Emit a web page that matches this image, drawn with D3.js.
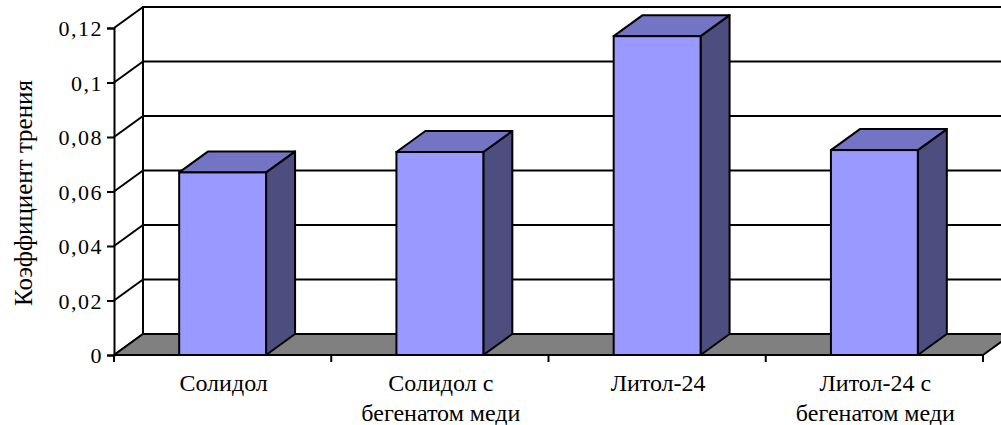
<!DOCTYPE html>
<html>
<head>
<meta charset="utf-8">
<script src="https://cdn.jsdelivr.net/npm/d3@7"></script>
<style>
  html, body { margin: 0; padding: 0; background: #fff; }
  svg { display: block; }
</style>
</head>
<body>
<div id="chart"></div>
<script>
// ---- data ----
const categories = ["Солидол", "Солидол с бегенатом меди", "Литол-24", "Литол-24 с бегенатом меди"];
const labelLines = [["Солидол"], ["Солидол с", "бегенатом меди"], ["Литол-24"], ["Литол-24 с", "бегенатом меди"]];
const values = [0.067, 0.0745, 0.117, 0.0752];
const yTicks = [0, 0.02, 0.04, 0.06, 0.08, 0.1, 0.12];
const yTickLabels = ["0", "0,02", "0,04", "0,06", "0,08", "0,1", "0,12"];
const yTitle = "Коэффициент трения";

const W = 1001, H = 425;
const FONT = "Liberation Serif";
// 3D depth offset (Excel-style oblique projection)
const DX = 29, DY = -21;

const svg = d3.select("#chart").append("svg")
  .attr("width", W).attr("height", H);

// bar width ~ 40% of each category slot
const x = d3.scaleBand()
  .domain(categories)
  .range([114, 983])
  .paddingInner(0.6)
  .paddingOuter(0.3);

const y = d3.scaleLinear().domain([0, 0.12]).range([355, 28]);

const x0 = x.range()[0], x1 = x.range()[1];
const yMax = y(0.12), y0 = y(0);

// ---- walls ----
// back wall runs past the right edge of the picture
svg.append("rect")
  .attr("x", x0 + DX).attr("y", yMax + DY)
  .attr("width", x1 - x0 + 10).attr("height", y0 - yMax)
  .attr("fill", "#fff").attr("stroke", "#000").attr("stroke-width", 2);

// gridlines on the back wall + diagonals across the side wall
yTicks.forEach(v => {
  svg.append("line")
    .attr("x1", x0 + DX).attr("x2", x1 + DX + 10)
    .attr("y1", y(v) + DY).attr("y2", y(v) + DY)
    .attr("stroke", "#000").attr("stroke-width", 2);
  svg.append("line")
    .attr("x1", x0).attr("y1", y(v))
    .attr("x2", x0 + DX).attr("y2", y(v) + DY)
    .attr("stroke", "#000").attr("stroke-width", 2);
});

// grey floor
svg.append("path")
  .attr("d", `M${x0},${y0} L${x1},${y0} L${x1 + DX},${y0 + DY} L${x0 + DX},${y0 + DY} Z`)
  .attr("fill", "#808080").attr("stroke", "#000").attr("stroke-width", 2)
  .attr("stroke-linejoin", "round");

// ---- bars: side, top, front ----
const bars = svg.append("g");
categories.forEach((c, i) => {
  const bx0 = x(c), bx1 = x(c) + x.bandwidth();
  const yt = y(values[i]);
  bars.append("path")
    .attr("d", `M${bx1},${yt} L${bx1 + DX},${yt + DY} L${bx1 + DX},${y0 + DY} L${bx1},${y0} Z`)
    .attr("fill", "#4d4d80").attr("stroke", "#000").attr("stroke-width", 2)
    .attr("stroke-linejoin", "round");
  bars.append("path")
    .attr("d", `M${bx0},${yt} L${bx0 + DX},${yt + DY} L${bx1 + DX},${yt + DY} L${bx1},${yt} Z`)
    .attr("fill", "#7474c4").attr("stroke", "#000").attr("stroke-width", 2)
    .attr("stroke-linejoin", "round");
  bars.append("rect")
    .attr("x", bx0).attr("y", yt)
    .attr("width", x.bandwidth()).attr("height", y0 - yt)
    .attr("fill", "#9999ff").attr("stroke", "#000").attr("stroke-width", 2);
});

// ---- y axis ----
const yAxis = svg.append("g")
  .attr("transform", `translate(${x0},0)`)
  .call(d3.axisLeft(y).tickValues(yTicks).tickSize(7).tickPadding(4)
    .tickFormat((d, i) => yTickLabels[i]))
  .attr("font-family", FONT);
yAxis.select(".domain").attr("stroke", "#000").attr("stroke-width", 2);
yAxis.selectAll(".tick line").attr("stroke", "#000").attr("stroke-width", 2);
yAxis.selectAll(".tick text")
  .attr("font-size", 22).attr("fill", "#000")
  .style("font-family", FONT)
  .attr("dy", "0.36em")
  .attr("letter-spacing", "1.5px");

// ---- x axis ----
const xAxisG = svg.append("g");
xAxisG.append("line")
  .attr("x1", x0).attr("x2", x1).attr("y1", y0).attr("y2", y0)
  .attr("stroke", "#000").attr("stroke-width", 2);
const step = x.step();
d3.range(categories.length + 1).forEach(k => {
  const tx = x0 + k * step;
  xAxisG.append("line")
    .attr("x1", tx).attr("x2", tx).attr("y1", y0).attr("y2", y0 + 7)
    .attr("stroke", "#000").attr("stroke-width", 2);
});
categories.forEach((c, i) => {
  const cx = x(c) + x.bandwidth() / 2 + 1;
  const t = xAxisG.append("text")
    .attr("x", cx)
    .attr("y", 391)
    .attr("text-anchor", "middle")
    .style("font-family", FONT)
    .attr("font-size", 24)
    .attr("fill", "#000");
  labelLines[i].forEach((ln, j) => {
    t.append("tspan")
      .attr("x", cx)
      .attr("dy", j === 0 ? 0 : 30)
      .text(ln);
  });
});

// ---- y title ----
svg.append("text")
  .attr("transform", `translate(32,193) rotate(-90)`)
  .attr("text-anchor", "middle")
  .style("font-family", FONT)
  .attr("font-size", 25)
  .attr("fill", "#000")
  .text(yTitle);
</script>
</body>
</html>
